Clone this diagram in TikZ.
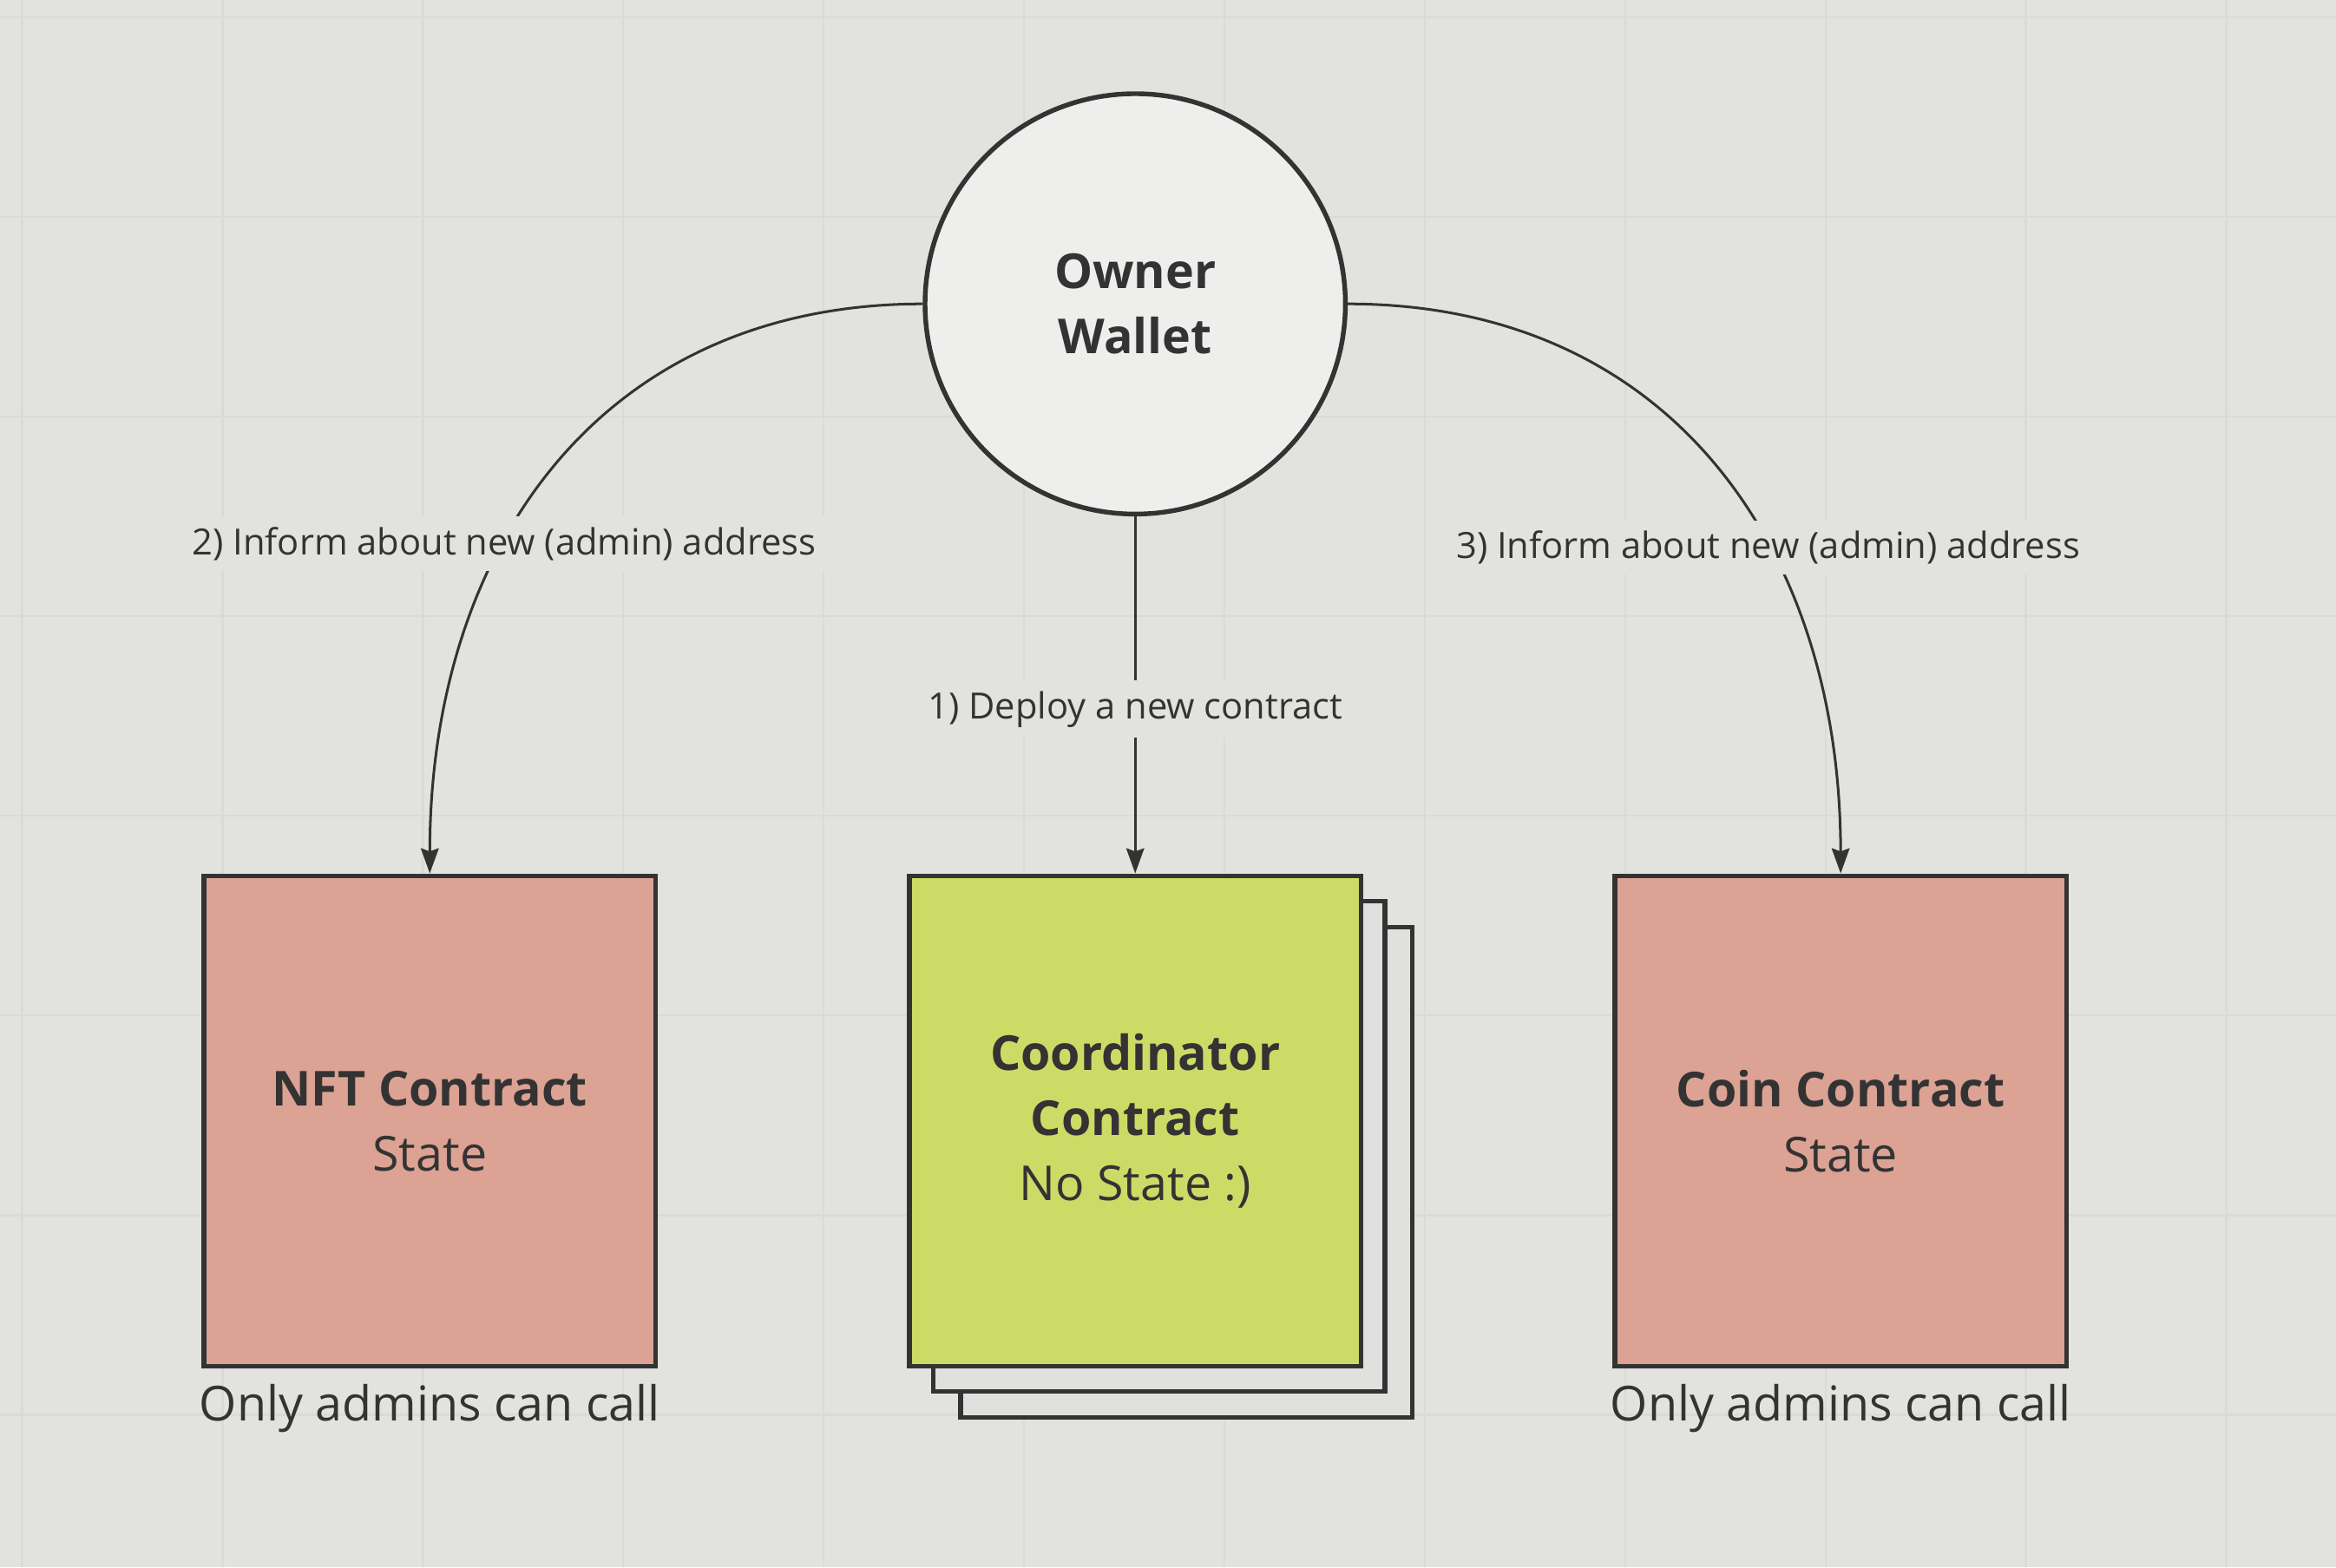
\documentclass[tikz,border=0pt]{standalone}
\usepackage{fontspec}
\setmainfont{Open Sans}
\usetikzlibrary{arrows.meta,positioning}

\definecolor{board}{HTML}{E2E3DF}
\definecolor{gridline}{HTML}{DADBD7}
\definecolor{ink}{HTML}{333333}
\definecolor{walletfill}{HTML}{EEEFEC}
\definecolor{salmon}{HTML}{DCA293}
\definecolor{lime}{HTML}{CCDB66}
\definecolor{sheetfill}{HTML}{E0E1DE}

\tikzstyle{wallet} = [circle, draw=ink, line width=0.9pt, fill=walletfill, minimum size=2.82cm, inner sep=0pt, align=center, text=ink, font=\fontsize{9.2}{12.4}\selectfont\bfseries]
\tikzstyle{contract} = [rectangle, draw=ink, line width=0.9pt, minimum width=3.03cm, minimum height=3.29cm, align=center, text=ink, font=\fontsize{9.2}{12.4}\selectfont]
\tikzstyle{sheet} = [contract, fill=sheetfill]
\tikzstyle{note} = [inner sep=0pt, text=ink, font=\fontsize{9.2}{11}\selectfont]
\tikzstyle{msg} = [fill=board, inner sep=2pt, text=ink, font=\fontsize{6.9}{8}\selectfont]
\tikzstyle{link} = [draw=ink, line width=0.5pt, -{Stealth[length=4.8pt, width=3.4pt, inset=0.6pt]}]

\begin{document}
\begin{tikzpicture}[x=0.01cm, y=0.01cm]
\fill[board] (0,0) rectangle (1568,1052);
\useasboundingbox (0,0) rectangle (1568,1052);
\foreach \gx in {0,...,11}
    \draw[gridline, line width=0.4pt] (14.85+134.5*\gx,0) -- ++(0,1052);
\foreach \gy in {0,...,7}
    \draw[gridline, line width=0.4pt] (0,1040.35-134*\gy) -- ++(1568,0);

\node[wallet] (owner) at (762,848) {Owner\\Wallet};

\node[sheet] (sheetC) at (796.5,265) {};
\node[sheet] (sheetB) at (778,282.5) {};
\node[contract, fill=lime] (coord) at (762,299.5) {{\bfseries Coordinator}\\{\bfseries Contract}\\No State :)};
\node[contract, fill=salmon] (nft) at (288.5,299.5) {{\bfseries NFT Contract}\\State};
\node[contract, fill=salmon] (coin) at (1235.5,299.5) {{\bfseries Coin Contract}\\State};

\node[note, below=0.1cm of nft] (nftnote) {Only admins can call};
\node[note, below=0.1cm of coin] (coinnote) {Only admins can call};

\draw[link] (owner.south) -- node[msg, pos=0.54] (deploy) {1) Deploy a new contract} (coord.north);
\draw[link] (owner.west) to[out=180, in=90, looseness=1.1] node[msg, pos=0.615] (informnft) {2) Inform about new (admin) address} (nft.north);
\draw[link] (owner.east) to[out=0, in=90, looseness=1.1] node[msg, pos=0.62] (informcoin) {3) Inform about new (admin) address} (coin.north);
\end{tikzpicture}
\end{document}
